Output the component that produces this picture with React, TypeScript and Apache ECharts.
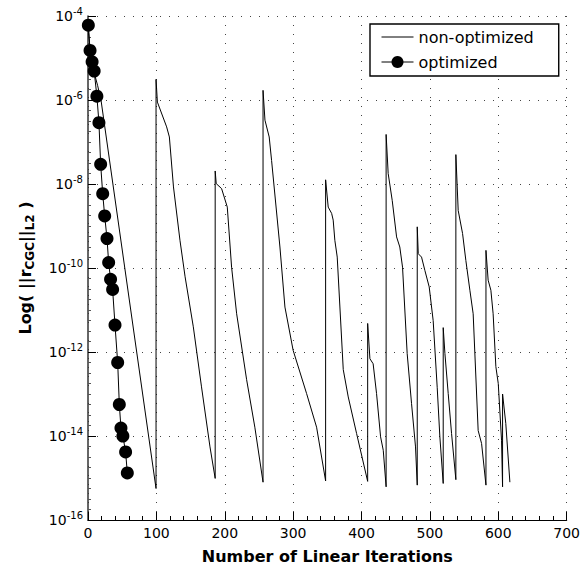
import React, { useEffect, useRef } from "react";
import * as echarts from "echarts";

// Tick values
const xTicks = [0, 100, 200, 300, 400, 500, 600, 700];
const yTickExponents = [-16, -14, -12, -10, -8, -6, -4];

// Non-optimized: iteration and log10 of residual
const nonOptIter = [
  0, 3, 6, 9, 14, 19, 99.5,
  99.5, 101.5, 115, 119, 125, 134.5, 142, 154, 166, 178.4, 186,
  186, 187.5, 195.4, 203.7, 210, 217.4, 232, 244, 256,
  256, 258.8, 265, 268.5, 280.7, 288, 300, 319.7, 334.3, 347.5,
  347.5, 351.3, 356.3, 358.6, 361, 364.5, 373.3, 380.6, 392.8, 409,
  409, 412.3, 417, 422, 427.9, 431.8, 436,
  436, 439, 444.9, 451.3, 456, 460, 466.8, 473.2, 479, 481.5,
  481.5, 483, 487.8, 492.7, 499, 504.8, 510.7, 514.6, 519.5,
  519.5, 522, 526.8, 531.7, 538,
  538, 541.4, 547.8, 552.6, 558.5, 563.3, 570.6, 575.6, 582,
  582, 585.2, 589.2, 592.5, 596.5, 600, 604.8, 606.3,
  606.3, 611, 617,
];
const nonOptLog = [
  -4.22, -4.8, -5.1, -5.35, -5.65, -6.0, -15.25,
  -5.51, -6.05, -6.64, -6.88, -8.07, -9.34, -10.21, -11.4, -12.83, -14.26, -15.01,
  -7.69, -7.99, -8.11, -8.55, -9.98, -11.09, -12.66, -13.79, -15.1,
  -5.77, -6.48, -6.88, -7.44, -9.5, -10.93, -11.96, -12.99, -13.79, -15.07,
  -7.9, -8.55, -8.7, -8.86, -9.34, -9.74, -12.42, -13.07, -13.94, -15.08,
  -11.32, -12.16, -12.28, -12.99, -14.02, -14.34, -15.21,
  -6.82, -7.75, -8.39, -9.26, -9.5, -9.98, -12.04, -13.23, -14.26, -15.17,
  -9.02, -9.66, -9.74, -10.06, -10.45, -11.25, -12.84, -14.02, -15.13,
  -11.42, -12.04, -12.99, -13.94, -15.04,
  -7.3, -8.63, -9.18, -9.82, -10.53, -11.09, -13.87, -14.18, -15.17,
  -9.58, -10.29, -10.53, -11.09, -12.35, -12.75, -14.1, -15.21,
  -13.0, -13.7, -15.1,
];

// Optimized: iteration and log10 of residual
const optIter = [
  0.5, 3, 6, 9, 13, 16, 18.5, 21.5, 24.4, 27.8, 30.2, 33, 36, 39.5, 43.4,
  45.8, 48.2, 51, 55, 57.5,
];
const optLog = [
  -4.22, -4.82, -5.09, -5.31, -5.91, -6.54, -7.53, -8.23, -8.76, -9.3, -9.87,
  -10.27, -10.51, -11.36, -12.25, -13.25, -13.81, -14.0, -14.38, -14.88,
];

const seriesNames = ["non-optimized", "optimized"];

const FONT = "DejaVu Sans";

export default function App() {
  const ref = useRef<HTMLDivElement>(null);
  useEffect(() => {
    if (!ref.current) return;
    const chart = echarts.init(ref.current, undefined, { renderer: "svg" });
    const nonOptData = nonOptIter.map((x, i) => [x, nonOptLog[i]]);
    const optData = optIter.map((x, i) => [x, optLog[i]]);
    const dotted = { color: "#444", width: 1, type: [1, 8] as number[] };
    chart.setOption({
      animation: false,
      backgroundColor: "#fff",
      textStyle: { fontFamily: FONT, color: "#000" },
      grid: { left: 88, right: 16, top: 16, bottom: 54 },
      legend: {
        data: [
          {
            name: seriesNames[0],
            icon: "line",
            itemStyle: { color: "#000", borderColor: "#000", borderWidth: 1 },
            lineStyle: { color: "#000", width: 1 },
          },
          { name: seriesNames[1], lineStyle: { color: "#000", width: 1 } },
        ],
        orient: "vertical",
        left: 370,
        top: 24,
        padding: [5, 25, 6, 11],
        itemGap: 9,
        itemWidth: 32,
        itemHeight: 15,
        backgroundColor: "#fff",
        borderColor: "#000",
        borderWidth: 1.4,
        borderRadius: 0,
        textStyle: { fontSize: 16, fontFamily: FONT, color: "#000" },
      },
      xAxis: {
        type: "value",
        min: xTicks[0],
        max: xTicks[xTicks.length - 1],
        interval: xTicks[1] - xTicks[0],
        name: "Number of Linear Iterations",
        nameLocation: "middle",
        nameGap: 28,
        nameTextStyle: { fontSize: 16, fontWeight: "bold", fontFamily: FONT, color: "#000" },
        axisLine: { lineStyle: { color: "#000", width: 1.2 } },
        axisTick: { inside: true, length: 8, lineStyle: { color: "#000" } },
        minorTick: { show: true, splitNumber: 5, length: 4, lineStyle: { color: "#000" } },
        splitLine: { show: true, lineStyle: dotted },
        axisLabel: { fontSize: 14, margin: 6, color: "#000", fontFamily: FONT },
      },
      yAxis: {
        type: "value",
        min: yTickExponents[0],
        max: yTickExponents[yTickExponents.length - 1],
        interval: yTickExponents[1] - yTickExponents[0],
        name: "{n|Log( ||r}{sub|CGC}{n|||}{sub|L2}{n| )}",
        nameLocation: "middle",
        nameRotate: 90,
        nameGap: 52,
        nameTextStyle: {
          fontFamily: FONT,
          color: "#000",
          rich: {
            n: { fontSize: 16, fontWeight: "bold", fontFamily: FONT, color: "#000" },
            sub: { fontSize: 12, fontWeight: "bold", fontFamily: FONT, color: "#000", padding: [9, 0, 0, 0] },
          },
        },
        axisLine: { lineStyle: { color: "#333", width: 1.5 } },
        axisTick: { inside: true, length: 8, lineStyle: { color: "#000" } },
        minorTick: { show: true, splitNumber: 8, length: 3, lineStyle: { color: "#555" } },
        splitLine: { show: true, lineStyle: dotted },
        axisLabel: {
          margin: 5,
          color: "#000",
          formatter: (v: number) => `{b|10}{s|${v}}`,
          rich: {
            b: { fontSize: 14, fontFamily: FONT, color: "#000" },
            s: { fontSize: 10, fontFamily: FONT, color: "#000", padding: [0, 0, 10, 0] },
          },
        },
      },
      series: [
        {
          name: seriesNames[0],
          type: "line",
          data: nonOptData,
          symbol: "none",
          lineStyle: { color: "#000", width: 1 },
          itemStyle: { color: "#000" },
          z: 2,
        },
        {
          name: seriesNames[1],
          type: "line",
          data: optData,
          symbol: "circle",
          symbolSize: 13,
          lineStyle: { color: "#000", width: 1 },
          itemStyle: { color: "#000" },
          z: 3,
        },
      ],
    });
    return () => chart.dispose();
  }, []);
  return <div ref={ref} style={{ width: 583, height: 574, position: "absolute", left: 0, top: 0 }} />;
}
